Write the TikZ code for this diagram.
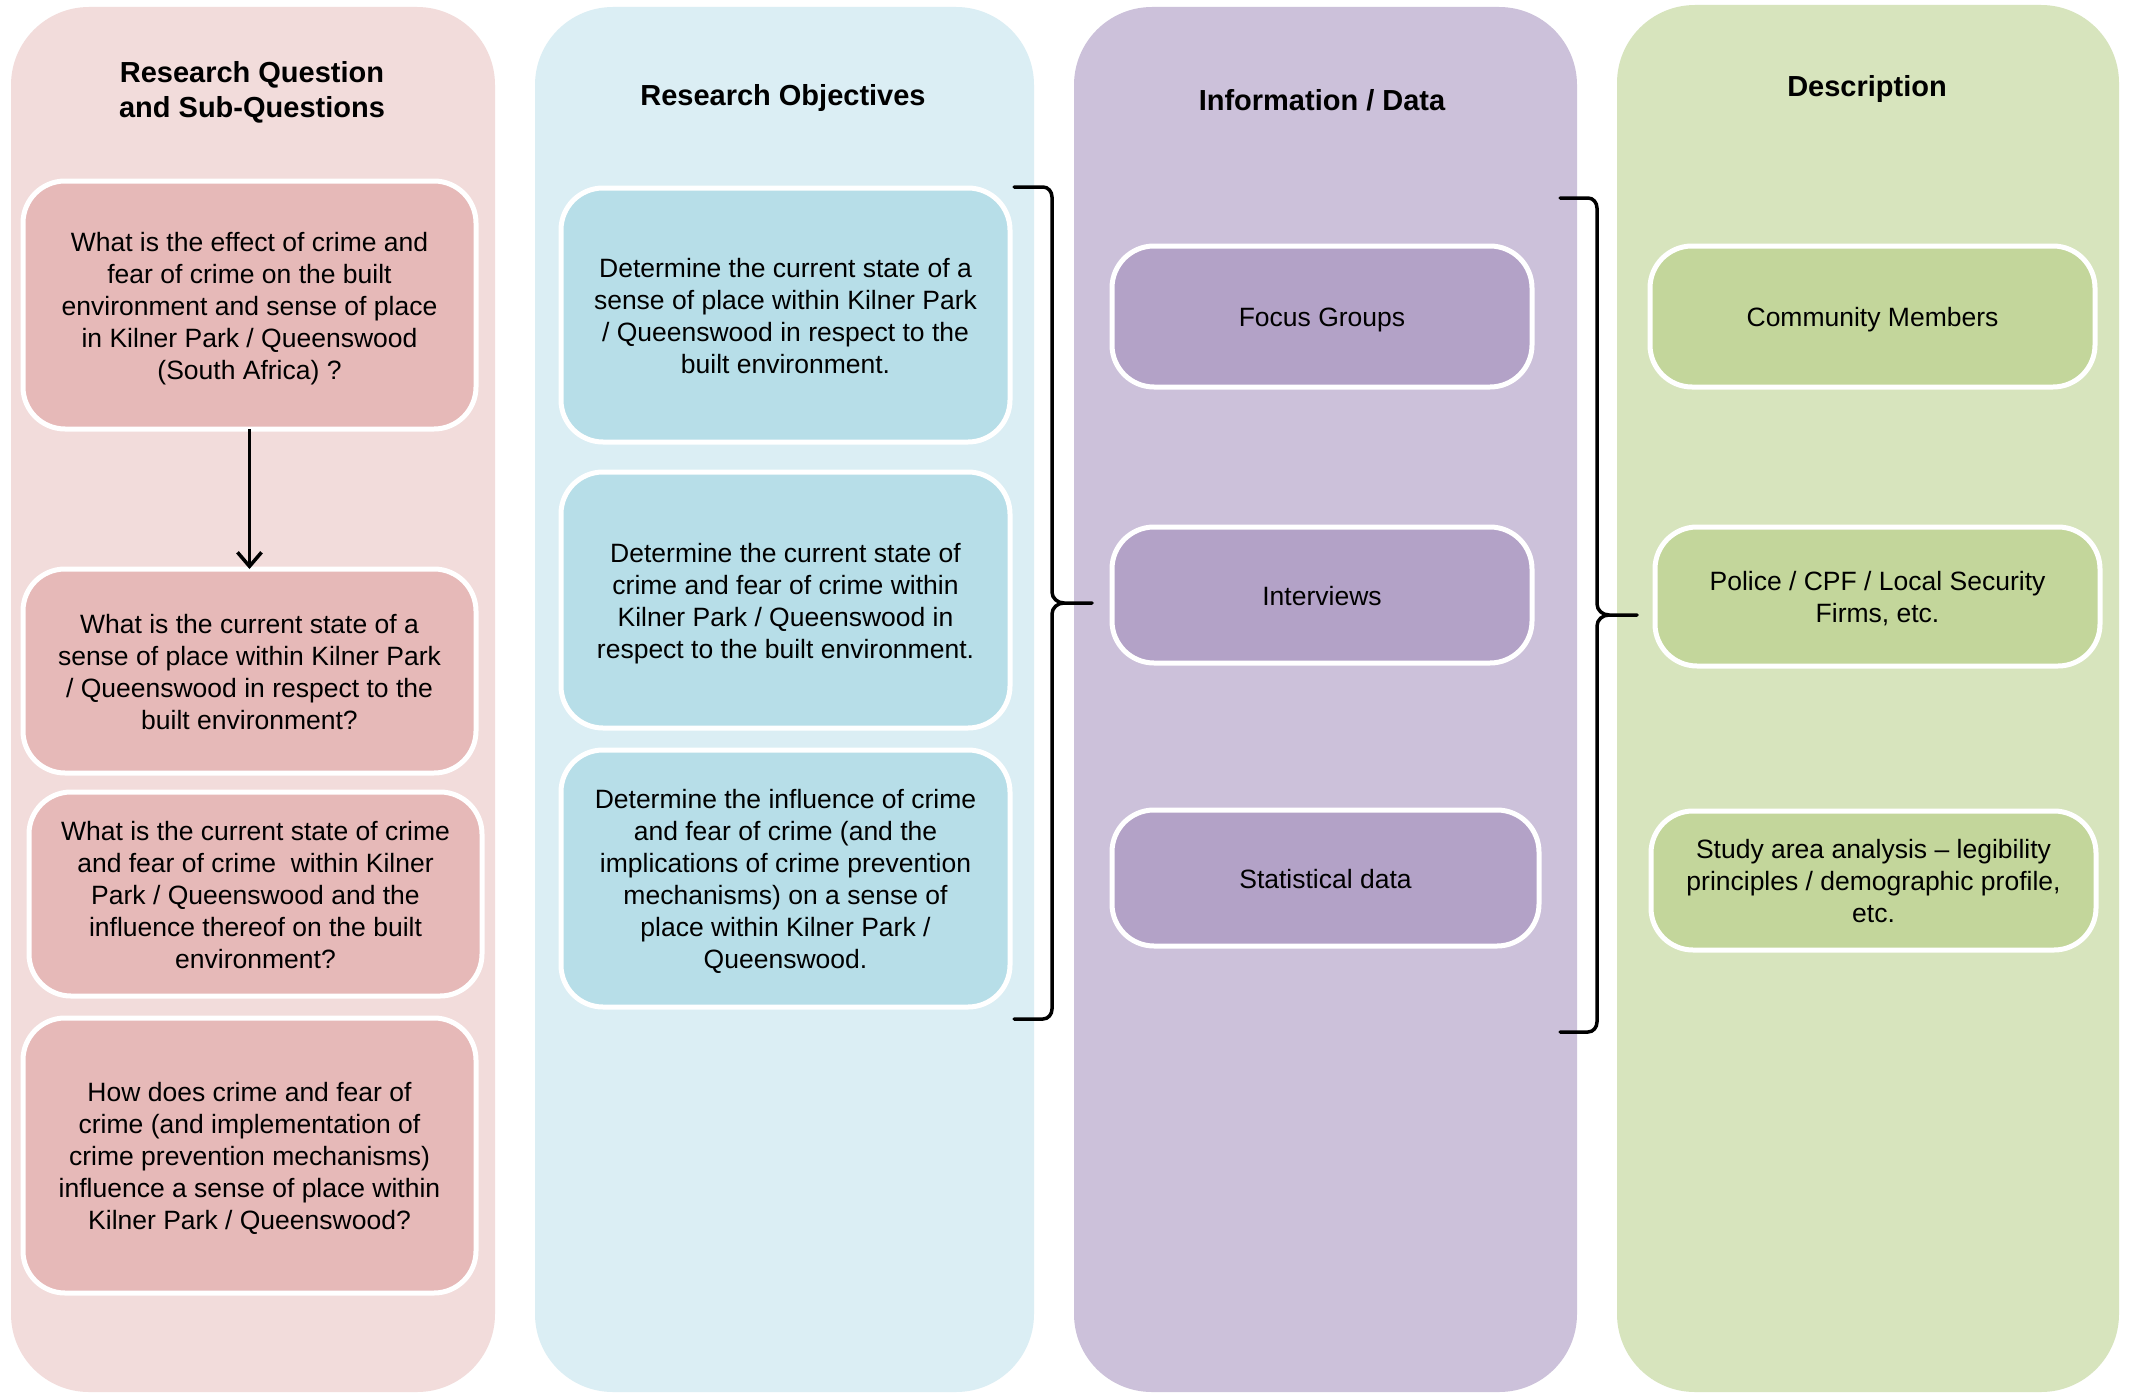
\documentclass[tikz,border=0pt]{standalone}
\usepackage{fontspec}
\setmainfont{Liberation Sans}
\usetikzlibrary{arrows.meta}

\definecolor{rqbg}{HTML}{F2DCDB}
\definecolor{rqbox}{HTML}{E6B9B8}
\definecolor{robg}{HTML}{DBEEF4}
\definecolor{robox}{HTML}{B7DEE8}
\definecolor{idbg}{HTML}{CCC1DA}
\definecolor{idbox}{HTML}{B3A2C7}
\definecolor{dsbg}{HTML}{D7E4BD}
\definecolor{dsbox}{HTML}{C3D69B}

% centred lines of card text, set a little below the card's middle
\newcommand{\cardlines}[1]{\raisebox{-4pt}[\height][\depth]{\begin{tabular}{@{}c@{}}#1\end{tabular}}}

\begin{document}
\begin{tikzpicture}[x=1pt,y=-1pt,
  lane/.style={rounded corners=78pt, inner sep=0pt, outer sep=0pt, draw=none},
  card/.style={rounded corners=42pt, draw=white, line width=5pt, inner sep=0pt,
    outer sep=0pt, font=\fontsize{26.5}{32}\selectfont},
  heading/.style={align=center, inner sep=0pt, font=\fontsize{29}{35}\bfseries\selectfont},
  bracket/.style={line width=3.5pt, line cap=round, line join=round},
  flow/.style={line width=3.5pt, -{Straight Barb[length=14pt,width=24pt,line width=3.5pt]}}
]
\useasboundingbox (0,0) rectangle (2134,1394);
\fill[white] (0,0) rectangle (2134,1394);

% coloured lanes
\node[lane, fill=rqbg, minimum width=484pt, minimum height=1385pt] (lane1) at (253,699.5) {};
\node[lane, fill=robg, minimum width=499pt, minimum height=1385pt] (lane2) at (784.5,699.5) {};
\node[lane, fill=idbg, minimum width=503pt, minimum height=1385pt] (lane3) at (1325.5,699.5) {};
\node[lane, fill=dsbg, minimum width=502pt, minimum height=1387pt] (lane4) at (1868,698.5) {};

% lane headings
\node[heading] (h1) at (252,92) {Research Question\\and Sub-Questions};
\node[heading] (h2) at (783,98) {Research Objectives};
\node[heading] (h3) at (1322,100) {Information / Data};
\node[heading] (h4) at (1867,89) {Description};

% research questions
\node[card, fill=rqbox, minimum width=453pt, minimum height=248pt] (q1) at (249.5,305)
  {\cardlines{What is the effect of crime and\\fear of crime on the built\\environment and sense of place\\in Kilner Park / Queenswood\\(South Africa) ?}};
\node[card, fill=rqbox, minimum width=453pt, minimum height=204pt] (q2) at (249.5,671)
  {\cardlines{What is the current state of a\\sense of place within Kilner Park\\/ Queenswood in respect to the\\built environment?}};
\node[card, fill=rqbox, minimum width=453pt, minimum height=204pt] (q3) at (255.5,894)
  {\cardlines{What is the current state of crime\\and fear of crime\ \ within Kilner\\Park / Queenswood and the\\influence thereof on the built\\environment?}};
\node[card, fill=rqbox, minimum width=453pt, minimum height=275pt] (q4) at (249.5,1155.5)
  {\cardlines{How does crime and fear of\\crime (and implementation of\\crime prevention mechanisms)\\influence a sense of place within\\Kilner Park / Queenswood?}};

\draw[flow] (q1.south) -- (q2.north);

% research objectives
\node[card, fill=robox, minimum width=449pt, minimum height=254pt] (o1) at (785.5,315)
  {\cardlines{Determine the current state of a\\sense of place within Kilner Park\\/ Queenswood in respect to the\\built environment.}};
\node[card, fill=robox, minimum width=449pt, minimum height=256pt] (o2) at (785.5,600)
  {\cardlines{Determine the current state of\\crime and fear of crime within\\Kilner Park / Queenswood in\\respect to the built environment.}};
\node[card, fill=robox, minimum width=449pt, minimum height=257pt] (o3) at (785.5,878.5)
  {\cardlines{Determine the influence of crime\\and fear of crime (and the\\implications of crime prevention\\mechanisms) on a sense of\\place within Kilner Park /\\Queenswood.}};

% information / data
\node[card, fill=idbox, minimum width=420pt, minimum height=141pt] (d1) at (1322,316.5) {\cardlines{Focus Groups}};
\node[card, fill=idbox, minimum width=420pt, minimum height=136pt] (d2) at (1322,595) {\cardlines{Interviews}};
\node[card, fill=idbox, minimum width=427pt, minimum height=136pt] (d3) at (1325.5,878) {\cardlines{Statistical data}};

% description
\node[card, fill=dsbox, minimum width=445pt, minimum height=141pt] (s1) at (1872.5,316.5) {\cardlines{Community Members}};
\node[card, fill=dsbox, minimum width=445pt, minimum height=139pt] (s2) at (1877.5,596.5)
  {\cardlines{Police / CPF / Local Security\\Firms, etc.}};
\node[card, fill=dsbox, minimum width=445pt, minimum height=139pt] (s3) at (1873.5,880.5)
  {\cardlines{Study area analysis -- legibility\\principles / demographic profile,\\etc.}};

% bracket grouping the objectives
\coordinate (b1t) at (1014,187);
\coordinate (b1b) at (1014,1019);
\coordinate (b1m) at (1092,603);
\draw[bracket] (b1t) -- (1043,187) to[out=0,in=90] (1052,197) -- (1052,592)
  to[out=-90,in=180] (1064,603) -- (b1m);
\draw[bracket] (b1b) -- (1043,1019) to[out=0,in=-90] (1052,1009) -- (1052,614)
  to[out=90,in=180] (1064,603);

% bracket grouping the data sources
\coordinate (b2t) at (1560,198);
\coordinate (b2b) at (1560,1032);
\coordinate (b2m) at (1637,615);
\draw[bracket] (b2t) -- (1588,198) to[out=0,in=90] (1597,208) -- (1597,604)
  to[out=-90,in=180] (1609,615) -- (b2m);
\draw[bracket] (b2b) -- (1588,1032) to[out=0,in=-90] (1597,1022) -- (1597,626)
  to[out=90,in=180] (1609,615);
\end{tikzpicture}
\end{document}
